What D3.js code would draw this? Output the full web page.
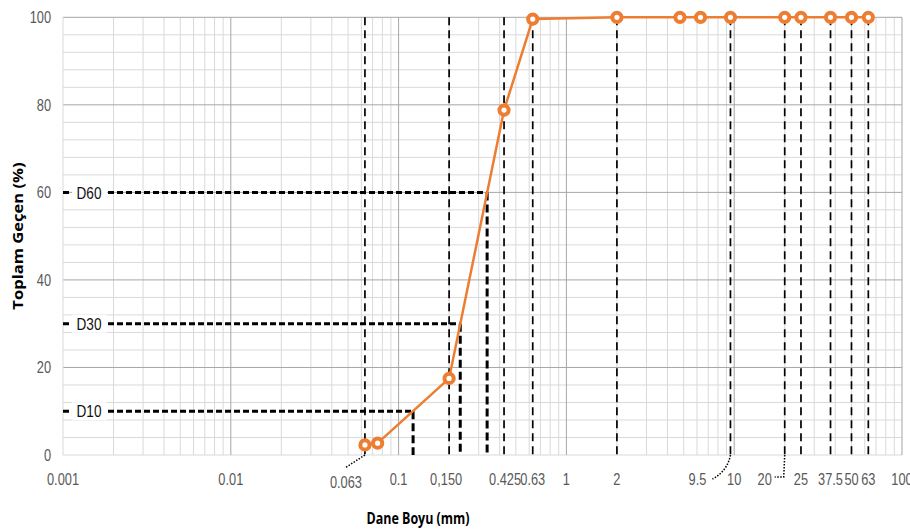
<!DOCTYPE html>
<html>
<head>
<meta charset="utf-8">
<script src="https://cdn.jsdelivr.net/npm/d3@7"></script>
<style>
  html, body { margin: 0; padding: 0; background: #fff; }
  svg { display: block; }
</style>
</head>
<body>
<svg id="chart" width="910" height="529"></svg>
<script>
// ---- data ----
const sieveSizes   = [0.063, 0.075, 0.2, 0.425, 0.63, 2, 4.75, 6.3, 9.5, 20, 25, 37.5, 50, 63];
const passingPct   = [2.3, 2.7, 17.5, 78.8, 99.6, 100, 100, 100, 100, 100, 100, 100, 100, 100];
const guideSizes   = [0.063, 0.2, 0.425, 0.63, 2, 9.5, 20, 25, 37.5, 50, 63];
const dNames       = ["D10", "D30", "D60"];
const dPercents    = [10, 30, 60];
const dSizes       = [0.122, 0.233, 0.337];
const xTickValues  = [0.001, 0.01, 0.063, 0.1, 0.2, 0.425, 0.63, 1, 2, 9.5, 10, 20, 25, 37.5, 50, 63, 100];
const xTickLabels  = ["0.001", "0.01", "0.063", "0.1", "0,150", "0.425", "0.63", "1", "2", "9.5", "10", "20", "25", "37.5", "50", "63", "100"];
const yTickValues  = [0, 20, 40, 60, 80, 100];
const xTitle = "Dane Boyu (mm)";
const yTitle = "Toplam Geçen (%)";

// ---- layout ----
const svg = d3.select("#chart");
const L = 63, R = 902, T = 17.3, B = 455;
const x = d3.scaleLog().domain([0.001, 100]).range([L, R]);
const y = d3.scaleLinear().domain([0, 100]).range([B, T]);
const labelFont = "'Liberation Sans', Arial, sans-serif";
const SX = 0.8; // narrow look

// minor grid
const g = svg.append("g");
const minorY = d3.range(0, 101, 4).filter(v => v % 20 !== 0);
g.selectAll(".hmin").data(minorY).join("line")
  .attr("x1", L).attr("x2", R).attr("y1", d => y(d)).attr("y2", d => y(d))
  .attr("stroke", "#d9d9d9").attr("stroke-width", 1);
const decades = [0.001, 0.01, 0.1, 1, 10];
const minorX = [];
decades.forEach(d => { for (let k = 2; k <= 9; k++) minorX.push(d * k); });
g.selectAll(".vmin").data(minorX).join("line")
  .attr("x1", d => x(d)).attr("x2", d => x(d)).attr("y1", T).attr("y2", B)
  .attr("stroke", "#d9d9d9").attr("stroke-width", 1);
// major grid
g.selectAll(".hmaj").data(yTickValues).join("line")
  .attr("x1", L).attr("x2", R).attr("y1", d => y(d)).attr("y2", d => y(d))
  .attr("stroke", d => d === 0 ? "#d9d9d9" : "#a6a6a6").attr("stroke-width", 1);
g.selectAll(".vmaj").data([0.001, 0.01, 0.1, 1, 10, 100]).join("line")
  .attr("x1", d => x(d)).attr("x2", d => x(d)).attr("y1", T).attr("y2", B)
  .attr("stroke", d => d === 0.001 ? "#d9d9d9" : "#a6a6a6").attr("stroke-width", 1);

// sieve guide lines
svg.append("g").selectAll("line").data(guideSizes).join("line")
  .attr("x1", d => x(d)).attr("x2", d => x(d)).attr("y1", y(100)).attr("y2", y(0))
  .attr("stroke", "#000").attr("stroke-width", 1.7).attr("stroke-dasharray", "8,5");

// D lines
const dg = svg.append("g");
dPercents.forEach((p, i) => {
  const yy = y(p), xx = x(dSizes[i]);
  dg.append("line").attr("x1", L).attr("x2", xx).attr("y1", yy).attr("y2", yy)
    .attr("stroke", "#000").attr("stroke-width", 3).attr("stroke-dasharray", "6,3");
  dg.append("line").attr("x1", xx).attr("x2", xx).attr("y1", yy).attr("y2", B)
    .attr("stroke", "#000").attr("stroke-width", 3).attr("stroke-dasharray", "8,4");
  dg.append("rect").attr("x", L + 9).attr("y", yy - 9).attr("width", 35).attr("height", 18)
    .attr("fill", "#fff");
  dg.append("text").attr("transform", `translate(${L + 26},${yy}) scale(${SX},1)`).attr("dy", "0.36em")
    .attr("text-anchor", "middle").attr("font-family", labelFont).attr("font-size", 17)
    .attr("fill", "#111").text(dNames[i]);
});

// leader lines (dotted)
const lead = svg.append("g").attr("fill", "none").attr("stroke", "#000")
  .attr("stroke-width", 1.5).attr("stroke-dasharray", "1.5,1.5");
lead.append("path").attr("d", `M${x(0.063)},${B} L${x(0.063) - 20},${B + 13}`);
lead.append("path").attr("d", `M${x(9.5)},${B} Q${x(9.5) - 3},${B + 16} ${x(9.5) - 18},${B + 24}`);
lead.append("path").attr("d", `M${x(20)},${B} L${x(20) - 1},${B + 22} L${x(20) - 10},${B + 22}`);

// data line
const line = d3.line().x(d => x(d[0])).y(d => y(d[1]));
const pts = sieveSizes.map((s, i) => [s, passingPct[i]]);
svg.append("path").datum(pts).attr("d", line)
  .attr("fill", "none").attr("stroke", "#ED7D31").attr("stroke-width", 2.5);
svg.append("g").selectAll("circle").data(pts).join("circle")
  .attr("cx", d => x(d[0])).attr("cy", d => y(d[1])).attr("r", 4.6)
  .attr("fill", "#fff").attr("stroke", "#ED7D31").attr("stroke-width", 4);

// x tick labels
const xOffsets = {"0.063": [-19, 3], "0,150": [-3, 0], "0.425": [1, 0], "9.5": [-33, 0], "20": [-20, 0]};
svg.append("g").selectAll("text").data(xTickValues).join("text")
  .attr("transform", (d, i) => {
    const o = xOffsets[xTickLabels[i]] || [0, 0];
    return `translate(${x(d) + o[0]},${485 + o[1]}) scale(${SX},1)`;
  })
  .attr("text-anchor", "middle").attr("font-family", labelFont).attr("font-size", 16)
  .attr("fill", "#595959").text((d, i) => xTickLabels[i]);

// y tick labels
svg.append("g").selectAll("text").data(yTickValues).join("text")
  .attr("transform", d => `translate(51,${y(d)}) scale(${SX},1)`).attr("dy", "0.36em")
  .attr("text-anchor", "end").attr("font-family", labelFont).attr("font-size", 16)
  .attr("fill", "#595959").text(d => d);

// titles
svg.append("text").attr("transform", "translate(418,524) scale(0.78,1)").attr("text-anchor", "middle")
  .attr("font-family", "'Open Sans', sans-serif").attr("font-weight", "bold").attr("font-size", 16)
  .attr("fill", "#000").text(xTitle);
svg.append("text").attr("transform", "translate(23,236) rotate(-90) scale(1.2,1)").attr("text-anchor", "middle")
  .attr("font-family", "'Open Sans', sans-serif").attr("font-weight", "bold").attr("font-size", 13.8)
  .attr("fill", "#000").text(yTitle);
</script>
</body>
</html>
